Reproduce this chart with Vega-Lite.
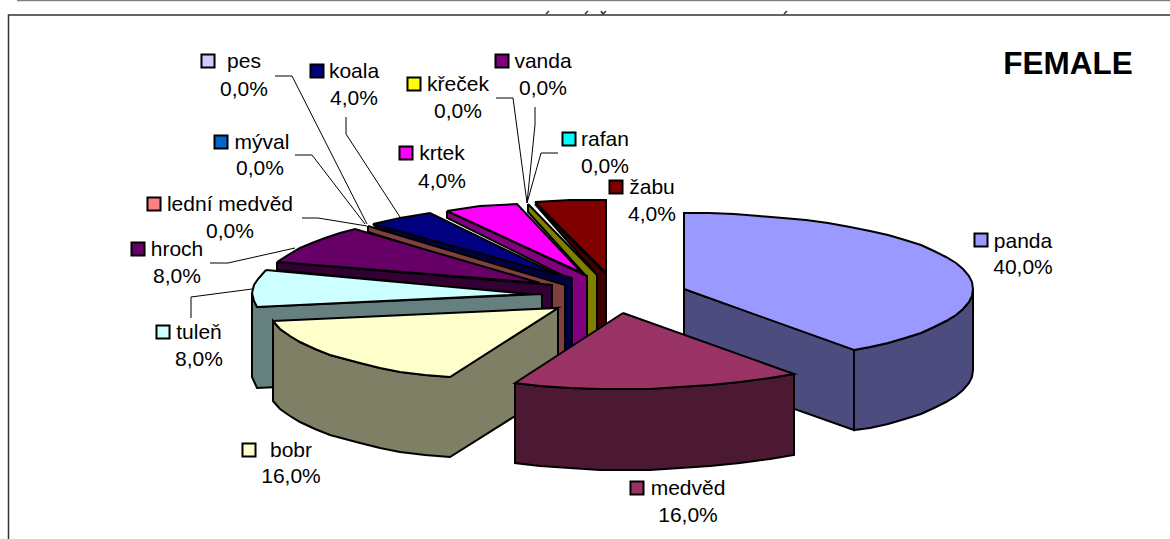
{"$schema":"https://vega.github.io/schema/vega-lite/v6.json","width":1170,"height":539,"padding":0,"autosize":"none","background":"white","view":{"stroke":null},
"encoding":{"x":{"field":"x","type":"quantitative","axis":null,"scale":{"domain":[0,1170],"nice":false,"zero":false}},"y":{"field":"y","type":"quantitative","axis":null,"scale":{"domain":[539,0],"nice":false,"zero":false}}},
"layer":[
{"data":{"values":[{"part":"top rule","x":17,"y":0.5},{"part":"top rule","x":1170,"y":0.5}]},"mark":{"type":"line","order":false,"stroke":"#808080","strokeWidth":1.5},"encoding":{"detail":{"field":"part"}}},
{"data":{"values":[{"part":"frame","x":1170,"y":15},{"part":"frame","x":8.5,"y":15},{"part":"frame","x":8.5,"y":539},{"part":"a1","x":546,"y":14},{"part":"a1","x":549,"y":11},{"part":"a2","x":585,"y":14},{"part":"a2","x":588,"y":11},{"part":"a3","x":601,"y":11},{"part":"a3","x":603,"y":14},{"part":"a3","x":606,"y":11},{"part":"a4","x":784,"y":14},{"part":"a4","x":787,"y":11}]},"mark":{"type":"line","order":false,"stroke":"#333333","strokeWidth":1.5},"encoding":{"detail":{"field":"part"}}},
{"data":{"values":[
{"leader":"pes","x":275,"y":76},{"leader":"pes","x":292,"y":76},{"leader":"pes","x":367,"y":224},
{"leader":"koala","x":346,"y":117},{"leader":"koala","x":346,"y":134},{"leader":"koala","x":400,"y":217},
{"leader":"mýval","x":295,"y":155},{"leader":"mýval","x":312,"y":155},{"leader":"mýval","x":365,"y":224},
{"leader":"lední medvěd","x":302,"y":218},{"leader":"lední medvěd","x":318,"y":218},{"leader":"lední medvěd","x":367,"y":226},
{"leader":"hroch","x":210,"y":263},{"leader":"hroch","x":228,"y":263},{"leader":"hroch","x":295,"y":248},
{"leader":"tuleň","x":191,"y":318},{"leader":"tuleň","x":191,"y":297},{"leader":"tuleň","x":252,"y":289},
{"leader":"křeček","x":496,"y":98},{"leader":"křeček","x":513,"y":98},{"leader":"křeček","x":527,"y":203},
{"leader":"vanda","x":535,"y":107},{"leader":"vanda","x":535,"y":125},{"leader":"vanda","x":527,"y":203},
{"leader":"rafan","x":558,"y":153},{"leader":"rafan","x":541,"y":153},{"leader":"rafan","x":527,"y":203}
]},"mark":{"type":"line","order":false,"stroke":"#000000","strokeWidth":1},"encoding":{"detail":{"field":"leader"}}},
{"data":{"values":[
{"shape":"žabu side","x":535,"y":204},{"shape":"žabu side","x":597,"y":275},{"shape":"žabu side","x":597,"y":400},{"shape":"žabu side","x":606,"y":400},{"shape":"žabu side","x":606,"y":274},{"shape":"žabu side","x":535,"y":204},
{"shape":"žabu top","x":535,"y":202},{"shape":"žabu top","x":570,"y":200},{"shape":"žabu top","x":606,"y":200},{"shape":"žabu top","x":606,"y":273},{"shape":"žabu top","x":535,"y":202},
{"shape":"křeček side","x":528,"y":204},{"shape":"křeček side","x":528,"y":212},{"shape":"křeček side","x":587,"y":277},{"shape":"křeček side","x":587,"y":400},{"shape":"křeček side","x":597,"y":400},{"shape":"křeček side","x":597,"y":275},{"shape":"křeček side","x":528,"y":204},
{"shape":"krtek side","x":447,"y":211},{"shape":"krtek side","x":447,"y":218},{"shape":"krtek side","x":572,"y":280},{"shape":"krtek side","x":572,"y":400},{"shape":"krtek side","x":587,"y":400},{"shape":"krtek side","x":587,"y":276},{"shape":"krtek side","x":447,"y":211},
{"shape":"krtek top","x":447,"y":211},{"shape":"krtek top","x":480,"y":206},{"shape":"krtek top","x":517,"y":204},{"shape":"krtek top","x":582,"y":273},{"shape":"krtek top","x":447,"y":211},
{"shape":"koala side","x":373,"y":224},{"shape":"koala side","x":378,"y":229},{"shape":"koala side","x":563,"y":285},{"shape":"koala side","x":563,"y":400},{"shape":"koala side","x":572,"y":400},{"shape":"koala side","x":572,"y":278},{"shape":"koala side","x":373,"y":224},
{"shape":"koala top","x":373,"y":224},{"shape":"koala top","x":400,"y":218},{"shape":"koala top","x":430,"y":213},{"shape":"koala top","x":558,"y":275},{"shape":"koala top","x":373,"y":224},
{"shape":"lední medvěd side","x":368,"y":226},{"shape":"lední medvěd side","x":368,"y":232},{"shape":"lední medvěd side","x":552,"y":290},{"shape":"lední medvěd side","x":552,"y":400},{"shape":"lední medvěd side","x":565,"y":400},{"shape":"lední medvěd side","x":565,"y":285},{"shape":"lední medvěd side","x":368,"y":226},
{"shape":"hroch side","x":277,"y":262},{"shape":"hroch side","x":277,"y":270},{"shape":"hroch side","x":542,"y":296},{"shape":"hroch side","x":542,"y":400},{"shape":"hroch side","x":552,"y":400},{"shape":"hroch side","x":552,"y":285},{"shape":"hroch side","x":277,"y":262},
{"shape":"hroch top","x":277,"y":262},{"shape":"hroch top","x":288,"y":255},{"shape":"hroch top","x":300,"y":248},{"shape":"hroch top","x":312,"y":243},{"shape":"hroch top","x":325,"y":238},{"shape":"hroch top","x":340,"y":233},{"shape":"hroch top","x":355,"y":229},{"shape":"hroch top","x":540,"y":283},{"shape":"hroch top","x":277,"y":262},
{"shape":"tuleň side","x":252,"y":293},{"shape":"tuleň side","x":257,"y":307},{"shape":"tuleň side","x":542,"y":294},{"shape":"tuleň side","x":542,"y":375},{"shape":"tuleň side","x":257,"y":388},{"shape":"tuleň side","x":252,"y":377},{"shape":"tuleň side","x":252,"y":293},
{"shape":"tuleň top","x":266,"y":270},{"shape":"tuleň top","x":258,"y":279},{"shape":"tuleň top","x":254,"y":285},{"shape":"tuleň top","x":252,"y":293},{"shape":"tuleň top","x":254,"y":301},{"shape":"tuleň top","x":257,"y":307},{"shape":"tuleň top","x":530,"y":294},{"shape":"tuleň top","x":266,"y":270},
{"shape":"bobr side","x":450,"y":377},{"shape":"bobr side","x":558,"y":308},{"shape":"bobr side","x":558,"y":389},{"shape":"bobr side","x":450,"y":457},{"shape":"bobr side","x":425,"y":455},{"shape":"bobr side","x":400,"y":452},{"shape":"bobr side","x":380,"y":448},{"shape":"bobr side","x":360,"y":443},{"shape":"bobr side","x":345,"y":439},{"shape":"bobr side","x":330,"y":435},{"shape":"bobr side","x":315,"y":429},{"shape":"bobr side","x":300,"y":422},{"shape":"bobr side","x":290,"y":416},{"shape":"bobr side","x":280,"y":409},{"shape":"bobr side","x":273,"y":401},{"shape":"bobr side","x":273,"y":321},{"shape":"bobr side","x":280,"y":329},{"shape":"bobr side","x":290,"y":336},{"shape":"bobr side","x":300,"y":342},{"shape":"bobr side","x":315,"y":349},{"shape":"bobr side","x":330,"y":355},{"shape":"bobr side","x":345,"y":359},{"shape":"bobr side","x":360,"y":363},{"shape":"bobr side","x":380,"y":368},{"shape":"bobr side","x":400,"y":372},{"shape":"bobr side","x":425,"y":375},{"shape":"bobr side","x":450,"y":377},
{"shape":"bobr top","x":273,"y":321},{"shape":"bobr top","x":280,"y":329},{"shape":"bobr top","x":290,"y":336},{"shape":"bobr top","x":300,"y":342},{"shape":"bobr top","x":315,"y":349},{"shape":"bobr top","x":330,"y":355},{"shape":"bobr top","x":345,"y":359},{"shape":"bobr top","x":360,"y":363},{"shape":"bobr top","x":380,"y":368},{"shape":"bobr top","x":400,"y":372},{"shape":"bobr top","x":425,"y":375},{"shape":"bobr top","x":450,"y":377},{"shape":"bobr top","x":558,"y":308},{"shape":"bobr top","x":273,"y":321},
{"shape":"panda side","x":684,"y":289},{"shape":"panda side","x":854,"y":349},{"shape":"panda side","x":854,"y":430},{"shape":"panda side","x":684,"y":370},{"shape":"panda side","x":684,"y":289},
{"shape":"panda outer","x":854,"y":350},{"shape":"panda outer","x":870,"y":347},{"shape":"panda outer","x":888,"y":343},{"shape":"panda outer","x":905,"y":338},{"shape":"panda outer","x":921,"y":333},{"shape":"panda outer","x":934,"y":327},{"shape":"panda outer","x":946,"y":321},{"shape":"panda outer","x":956,"y":315},{"shape":"panda outer","x":963,"y":309},{"shape":"panda outer","x":969,"y":302},{"shape":"panda outer","x":972,"y":296},{"shape":"panda outer","x":973,"y":289},{"shape":"panda outer","x":973,"y":370},{"shape":"panda outer","x":972,"y":377},{"shape":"panda outer","x":969,"y":383},{"shape":"panda outer","x":963,"y":390},{"shape":"panda outer","x":956,"y":396},{"shape":"panda outer","x":946,"y":402},{"shape":"panda outer","x":934,"y":408},{"shape":"panda outer","x":921,"y":414},{"shape":"panda outer","x":905,"y":419},{"shape":"panda outer","x":888,"y":424},{"shape":"panda outer","x":870,"y":428},{"shape":"panda outer","x":854,"y":430},{"shape":"panda outer","x":854,"y":350},
{"shape":"panda top","x":684,"y":289},{"shape":"panda top","x":684,"y":213},{"shape":"panda top","x":709,"y":213},{"shape":"panda top","x":734,"y":214},{"shape":"panda top","x":759,"y":216},{"shape":"panda top","x":783,"y":218},{"shape":"panda top","x":806,"y":220},{"shape":"panda top","x":828,"y":223},{"shape":"panda top","x":850,"y":227},{"shape":"panda top","x":870,"y":231},{"shape":"panda top","x":888,"y":235},{"shape":"panda top","x":905,"y":240},{"shape":"panda top","x":921,"y":245},{"shape":"panda top","x":934,"y":251},{"shape":"panda top","x":946,"y":257},{"shape":"panda top","x":956,"y":263},{"shape":"panda top","x":963,"y":269},{"shape":"panda top","x":969,"y":276},{"shape":"panda top","x":972,"y":282},{"shape":"panda top","x":973,"y":289},{"shape":"panda top","x":972,"y":296},{"shape":"panda top","x":969,"y":302},{"shape":"panda top","x":963,"y":309},{"shape":"panda top","x":956,"y":315},{"shape":"panda top","x":946,"y":321},{"shape":"panda top","x":934,"y":327},{"shape":"panda top","x":921,"y":333},{"shape":"panda top","x":905,"y":338},{"shape":"panda top","x":888,"y":343},{"shape":"panda top","x":870,"y":347},{"shape":"panda top","x":854,"y":350},{"shape":"panda top","x":684,"y":289},
{"shape":"medvěd side","x":515,"y":383},{"shape":"medvěd side","x":540,"y":386},{"shape":"medvěd side","x":570,"y":388},{"shape":"medvěd side","x":600,"y":389},{"shape":"medvěd side","x":650,"y":389},{"shape":"medvěd side","x":680,"y":387},{"shape":"medvěd side","x":710,"y":385},{"shape":"medvěd side","x":740,"y":382},{"shape":"medvěd side","x":770,"y":378},{"shape":"medvěd side","x":794,"y":374},{"shape":"medvěd side","x":794,"y":455},{"shape":"medvěd side","x":770,"y":459},{"shape":"medvěd side","x":740,"y":463},{"shape":"medvěd side","x":710,"y":466},{"shape":"medvěd side","x":680,"y":468},{"shape":"medvěd side","x":650,"y":470},{"shape":"medvěd side","x":600,"y":470},{"shape":"medvěd side","x":570,"y":468},{"shape":"medvěd side","x":540,"y":466},{"shape":"medvěd side","x":515,"y":463},{"shape":"medvěd side","x":515,"y":383},
{"shape":"medvěd top","x":623,"y":313},{"shape":"medvěd top","x":794,"y":374},{"shape":"medvěd top","x":770,"y":378},{"shape":"medvěd top","x":740,"y":382},{"shape":"medvěd top","x":710,"y":385},{"shape":"medvěd top","x":680,"y":387},{"shape":"medvěd top","x":650,"y":389},{"shape":"medvěd top","x":600,"y":389},{"shape":"medvěd top","x":570,"y":388},{"shape":"medvěd top","x":540,"y":386},{"shape":"medvěd top","x":515,"y":383},{"shape":"medvěd top","x":623,"y":313}
]},"mark":{"type":"line","order":false,"stroke":"#000000","strokeWidth":2,"strokeJoin":"miter"},"encoding":{"detail":{"field":"shape"},"fill":{"field":"shape","type":"nominal","legend":null,"scale":{"domain":["žabu side","žabu top","křeček side","krtek side","krtek top","koala side","koala top","lední medvěd side","hroch side","hroch top","tuleň side","tuleň top","bobr side","bobr top","panda side","panda outer","panda top","medvěd side","medvěd top"],"range":["#400000","#800000","#808000","#800080","#FF00FF","#000040","#000080","#804040","#330033","#660066","#667F7F","#CCFFFF","#7F7F66","#FFFFCC","#4C4C7F","#4C4C7F","#9999FF","#4C1933","#993366"]}}}},
{"data":{"values":[
{"animal":"pes","x":208,"y":61},{"animal":"koala","x":317,"y":71},{"animal":"křeček","x":414,"y":84},{"animal":"vanda","x":502,"y":61},{"animal":"rafan","x":569,"y":139},{"animal":"krtek","x":406,"y":153},{"animal":"žabu","x":616,"y":187},{"animal":"mýval","x":221,"y":142},{"animal":"lední medvěd","x":154,"y":204},{"animal":"hroch","x":138,"y":249},{"animal":"tuleň","x":163,"y":332},{"animal":"bobr","x":249,"y":450},{"animal":"medvěd","x":637,"y":488},{"animal":"panda","x":981,"y":240}
]},"mark":{"type":"point","shape":"square","filled":true,"size":170,"opacity":1,"stroke":"#000000","strokeWidth":2},"encoding":{"fill":{"field":"animal","type":"nominal","legend":null,"scale":{"domain":["pes","koala","křeček","vanda","rafan","krtek","žabu","mýval","lední medvěd","hroch","tuleň","bobr","medvěd","panda"],"range":["#CCCCFF","#000080","#FFFF00","#800080","#00FFFF","#FF00FF","#800000","#0066CC","#FF8080","#660066","#CCFFFF","#FFFFCC","#993366","#9999FF"]}}}},
{"data":{"values":[
{"label":"pes","x":244,"y":61},{"label":"0,0%","x":244,"y":89},
{"label":"koala","x":354,"y":71},{"label":"4,0%","x":354,"y":98},
{"label":"křeček","x":458,"y":84},{"label":"0,0%","x":458,"y":111},
{"label":"vanda","x":543,"y":61},{"label":"0,0%","x":543,"y":88},
{"label":"rafan","x":605,"y":139},{"label":"0,0%","x":605,"y":166},
{"label":"krtek","x":442,"y":153},{"label":"4,0%","x":442,"y":181},
{"label":"žabu","x":652,"y":187},{"label":"4,0%","x":652,"y":214},
{"label":"mýval","x":262,"y":142},{"label":"0,0%","x":260,"y":168},
{"label":"lední medvěd","x":230,"y":204},{"label":"0,0%","x":230,"y":231},
{"label":"hroch","x":177,"y":249},{"label":"8,0%","x":177,"y":276},
{"label":"tuleň","x":199,"y":332},{"label":"8,0%","x":199,"y":359},
{"label":"bobr","x":291,"y":450},{"label":"16,0%","x":291,"y":476},
{"label":"medvěd","x":688,"y":488},{"label":"16,0%","x":688,"y":515},
{"label":"panda","x":1023,"y":241},{"label":"40,0%","x":1023,"y":267}
]},"mark":{"type":"text","font":"Liberation Sans","fontSize":21,"align":"center","baseline":"middle","dy":1,"fill":"#000000"},"encoding":{"text":{"field":"label"}}},
{"data":{"values":[{"label":"FEMALE","x":1068,"y":63}]},"mark":{"type":"text","font":"Liberation Sans","fontSize":31.5,"fontWeight":"bold","align":"center","baseline":"middle","dy":2,"fill":"#000000"},"encoding":{"text":{"field":"label"}}}
],
"resolve":{"scale":{"fill":"independent"}}}
